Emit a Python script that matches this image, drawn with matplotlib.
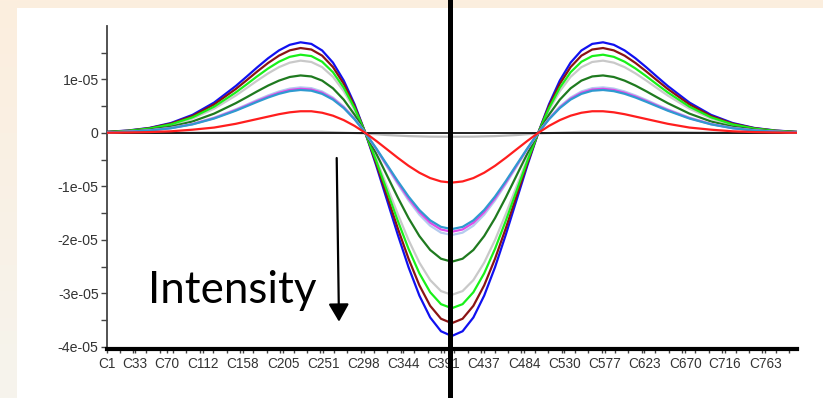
import matplotlib
matplotlib.use("Agg")
import matplotlib.pyplot as plt
import numpy as np
from matplotlib.lines import Line2D
from matplotlib.patches import Rectangle
from matplotlib.ticker import MultipleLocator, FixedLocator
from matplotlib.transforms import blended_transform_factory

# ---------------- data (values in units of 1e-5) ----------------
SCALE = 1e-5
x_cat = [0, 25, 50, 75, 100, 125, 150, 162.5, 175, 187.5, 200, 212.5, 225, 237.5, 250, 262.5,
         275, 287.5, 300, 312.5, 325, 337.5, 350, 362.5, 375, 387.5, 400,
         412.5, 425, 437.5, 450, 462.5, 475, 487.5, 500, 512.5, 525, 537.5, 550, 562.5, 575,
         587.5, 600, 612.5, 625, 637.5, 650, 675, 700, 725, 750, 775, 800]

blue = [0.019, 0.044, 0.093, 0.185, 0.338, 0.568, 0.877, 1.051, 1.229, 1.397, 1.543, 1.648, 1.695,
        1.665, 1.542, 1.315, 0.979, 0.536, 0.0, -0.607, -1.255, -1.905, -2.515, -3.044, -3.453,
        -3.711, -3.80,
        -3.711, -3.453, -3.044, -2.515, -1.905, -1.255, -0.607, 0.0, 0.536, 0.979, 1.315, 1.542,
        1.665, 1.695, 1.648, 1.543, 1.397, 1.229, 1.051, 0.877, 0.568, 0.338, 0.185, 0.093, 0.044,
        0.019]
maroon = [0.018, 0.041, 0.088, 0.173, 0.316, 0.533, 0.821, 0.984, 1.151, 1.309, 1.445, 1.544, 1.588,
          1.560, 1.445, 1.232, 0.917, 0.502, 0.0, -0.569, -1.176, -1.785, -2.356, -2.852, -3.235,
          -3.477, -3.56,
          -3.477, -3.235, -2.852, -2.356, -1.785, -1.176, -0.569, 0.0, 0.502, 0.917, 1.232, 1.445,
          1.560, 1.588, 1.544, 1.445, 1.309, 1.151, 0.984, 0.821, 0.533, 0.316, 0.173, 0.088, 0.041,
          0.018]
lime = [0.016, 0.038, 0.081, 0.159, 0.292, 0.491, 0.757, 0.907, 1.061, 1.206, 1.332, 1.423, 1.463,
        1.437, 1.331, 1.135, 0.845, 0.463, 0.0, -0.524, -1.083, -1.644, -2.171, -2.627, -2.981,
        -3.204, -3.28,
        -3.204, -2.981, -2.627, -2.171, -1.644, -1.083, -0.524, 0.0, 0.463, 0.845, 1.135, 1.331,
        1.437, 1.463, 1.423, 1.332, 1.206, 1.061, 0.907, 0.757, 0.491, 0.292, 0.159, 0.081, 0.038,
        0.016]
silver = [0.015, 0.035, 0.075, 0.147, 0.269, 0.453, 0.699, 0.838, 0.980, 1.114, 1.230, 1.314, 1.352,
          1.327, 1.230, 1.049, 0.780, 0.428, 0.0, -0.484, -1.001, -1.519, -2.006, -2.427, -2.753,
          -2.959, -3.03,
          -2.959, -2.753, -2.427, -2.006, -1.519, -1.001, -0.484, 0.0, 0.428, 0.780, 1.049, 1.230,
          1.327, 1.352, 1.314, 1.230, 1.114, 0.980, 0.838, 0.699, 0.453, 0.269, 0.147, 0.075, 0.035,
          0.015]
darkgreen = [0.012, 0.028, 0.059, 0.117, 0.214, 0.361, 0.556, 0.666, 0.779, 0.886, 0.978, 1.046, 1.075,
             1.056, 0.978, 0.834, 0.621, 0.340, 0.0, -0.385, -0.796, -1.208, -1.595, -1.930, -2.190,
             -2.354, -2.41,
             -2.354, -2.190, -1.930, -1.595, -1.208, -0.796, -0.385, 0.0, 0.340, 0.621, 0.834, 0.978,
             1.056, 1.075, 1.046, 0.978, 0.886, 0.779, 0.666, 0.556, 0.361, 0.214, 0.117, 0.059, 0.028,
             0.012]
paleblue = [0.010, 0.022, 0.047, 0.093, 0.170, 0.286, 0.441, 0.528, 0.618, 0.702, 0.775, 0.829, 0.852,
            0.837, 0.775, 0.661, 0.492, 0.270, 0.0, -0.305, -0.631, -0.958, -1.264, -1.530, -1.736,
            -1.866, -1.91,
            -1.866, -1.736, -1.530, -1.264, -0.958, -0.631, -0.305, 0.0, 0.270, 0.492, 0.661, 0.775,
            0.837, 0.852, 0.829, 0.775, 0.702, 0.618, 0.528, 0.441, 0.286, 0.170, 0.093, 0.047, 0.022,
            0.010]
magenta = [0.009, 0.021, 0.046, 0.090, 0.164, 0.277, 0.427, 0.512, 0.598, 0.680, 0.751, 0.803, 0.825,
           0.811, 0.751, 0.640, 0.476, 0.261, 0.0, -0.296, -0.611, -0.927, -1.225, -1.482, -1.681,
           -1.807, -1.85,
           -1.807, -1.681, -1.482, -1.225, -0.927, -0.611, -0.296, 0.0, 0.261, 0.476, 0.640, 0.751,
           0.811, 0.825, 0.803, 0.751, 0.680, 0.598, 0.512, 0.427, 0.277, 0.164, 0.090, 0.046, 0.021,
           0.009]
steelblue = [0.009, 0.021, 0.044, 0.087, 0.160, 0.269, 0.415, 0.498, 0.582, 0.662, 0.731, 0.781, 0.803,
             0.789, 0.730, 0.623, 0.464, 0.254, 0.0, -0.288, -0.594, -0.902, -1.191, -1.442, -1.636,
             -1.758, -1.80,
             -1.758, -1.636, -1.442, -1.191, -0.902, -0.594, -0.288, 0.0, 0.254, 0.464, 0.623, 0.730,
             0.789, 0.803, 0.781, 0.731, 0.662, 0.582, 0.498, 0.415, 0.269, 0.160, 0.087, 0.044, 0.021,
             0.009]
red = [0.003, 0.007, 0.015, 0.030, 0.060, 0.100, 0.170, 0.215, 0.260, 0.305, 0.350, 0.385, 0.405,
       0.405, 0.377, 0.322, 0.239, 0.131, 0.0, -0.149, -0.307, -0.466, -0.616, -0.745, -0.845,
       -0.908, -0.93,
       -0.908, -0.845, -0.745, -0.616, -0.466, -0.307, -0.149, 0.0, 0.131, 0.239, 0.322, 0.377,
       0.405, 0.405, 0.385, 0.350, 0.305, 0.260, 0.215, 0.170, 0.100, 0.060, 0.030, 0.015, 0.007,
       0.003]

x_gray = [0, 50, 100, 150, 200, 250, 300, 325, 350, 375, 400, 425, 450, 475, 500, 550, 600, 650,
          700, 750, 800]
lightgray = [0.000, 0.002, 0.006, 0.016, 0.024, 0.020, -0.010, -0.040, -0.060, -0.070, -0.072,
             -0.070, -0.060, -0.040, -0.010, 0.020, 0.024, 0.016, 0.006, 0.002, 0.000]

series = [
    ("silver", silver, "#c9c9c9"),
    ("blue", blue, "#1010f0"),
    ("maroon", maroon, "#8a1414"),
    ("lime", lime, "#19f019"),
    ("darkgreen", darkgreen, "#1f7a1f"),
    ("paleblue", paleblue, "#b4cbee"),
    ("magenta", magenta, "#e04ae8"),
    ("steelblue", steelblue, "#2f9ad0"),
    ("red", red, "#ff1e1e"),
]

xtick_pos = [1, 33, 70, 112, 158, 205, 251, 298, 344, 391, 437, 484, 530, 577, 623, 670, 716, 763]
xtick_labels = ["C%d" % v for v in xtick_pos]
ytick_pos = [1e-5, 0, -1e-5, -2e-5, -3e-5, -4e-5]
ytick_labels = ["1e-05", "0", "-1e-05", "-2e-05", "-3e-05", "-4e-05"]

# ---------------- figure ----------------
W, H = 823, 398
fig = plt.figure(figsize=(W / 100, H / 100), dpi=100)
fig.patch.set_facecolor("#fcefe0")

# soft peach background fading toward the bottom
bg = fig.add_axes([0, 0, 1, 1], zorder=-10)
top_c = np.array([252, 238, 222]) / 255
bot_c = np.array([246, 244, 237]) / 255
t = np.linspace(0, 1, 200)[:, None, None]
grad = top_c * (1 - t) + bot_c * t
bg.imshow(np.repeat(grad, 2, axis=1), aspect="auto", extent=[0, 1, 0, 1], origin="upper")
bg.set_axis_off()
fig.add_artist(Rectangle((17 / W, 0), 1 - 17 / W, (H - 8) / H, transform=fig.transFigure,
                         facecolor="white", edgecolor="none", zorder=-5))

ax_l, ax_r, ax_t, ax_b = 107, 797, 26, 349
ax = fig.add_axes([ax_l / W, (H - ax_b) / H, (ax_r - ax_l) / W, (ax_b - ax_t) / H])
ax.set_facecolor("none")

ax.plot(x_gray, [v * SCALE for v in lightgray], color="#bdbdbd", lw=1.6, zorder=1.5)
for name, vals, col in series:
    ax.plot(x_cat, [v * SCALE for v in vals], color=col, lw=1.6, zorder=3,
            solid_joinstyle="round")

ax.axhline(0, color="black", lw=1.2, zorder=2)

ax.set_xlim(1, 799.5)
ax.set_ylim(-4.043e-5, 2.0e-5)

for s in ("top", "right"):
    ax.spines[s].set_visible(False)
ax.spines["left"].set_color("#444444")
ax.spines["left"].set_linewidth(1.3)
ax.spines["bottom"].set_color("black")
ax.spines["bottom"].set_linewidth(3.0)

ax.set_xticks(xtick_pos)
ax.set_xticklabels(xtick_labels)
ax.xaxis.set_minor_locator(MultipleLocator(15.5))
ax.set_yticks(ytick_pos)
ax.set_yticklabels(ytick_labels)
ax.yaxis.set_minor_locator(FixedLocator([1.5e-5, 0.5e-5, -0.5e-5, -1.5e-5, -2.5e-5, -3.5e-5]))

ax.tick_params(axis="both", which="both", colors="#444444", labelcolor="#333333", direction="out")
ax.tick_params(axis="x", which="both", length=3, width=1, pad=3, labelsize=9.8)
ax.tick_params(axis="y", which="both", length=4, width=1, pad=2, labelsize=10.2)
for lab in ax.get_xticklabels() + ax.get_yticklabels():
    lab.set_fontfamily(["Liberation Sans", "DejaVu Sans"])

# thick vertical black line through whole figure
trans = blended_transform_factory(ax.transData, fig.transFigure)
fig.add_artist(Line2D([398, 398], [0, 1], transform=trans, color="black", lw=3.6,
                      zorder=10, clip_on=False))

# arrow + Intensity label
ax.annotate("", xy=(339, H - 321.7), xytext=(336.7, H - 158),
            xycoords="figure pixels", textcoords="figure pixels",
            arrowprops=dict(arrowstyle="-|>,head_length=0.4,head_width=0.23", color="black",
                            lw=1.6, mutation_scale=27, shrinkA=0, shrinkB=0),
            zorder=10, annotation_clip=False)
fig.text(148 / W, (H - 303) / H, "Intensity", fontsize=31.6, family=["Lato", "DejaVu Sans"],
         color="black", ha="left", va="baseline", zorder=10)

fig.savefig("out.png", dpi=100, facecolor=fig.get_facecolor())
